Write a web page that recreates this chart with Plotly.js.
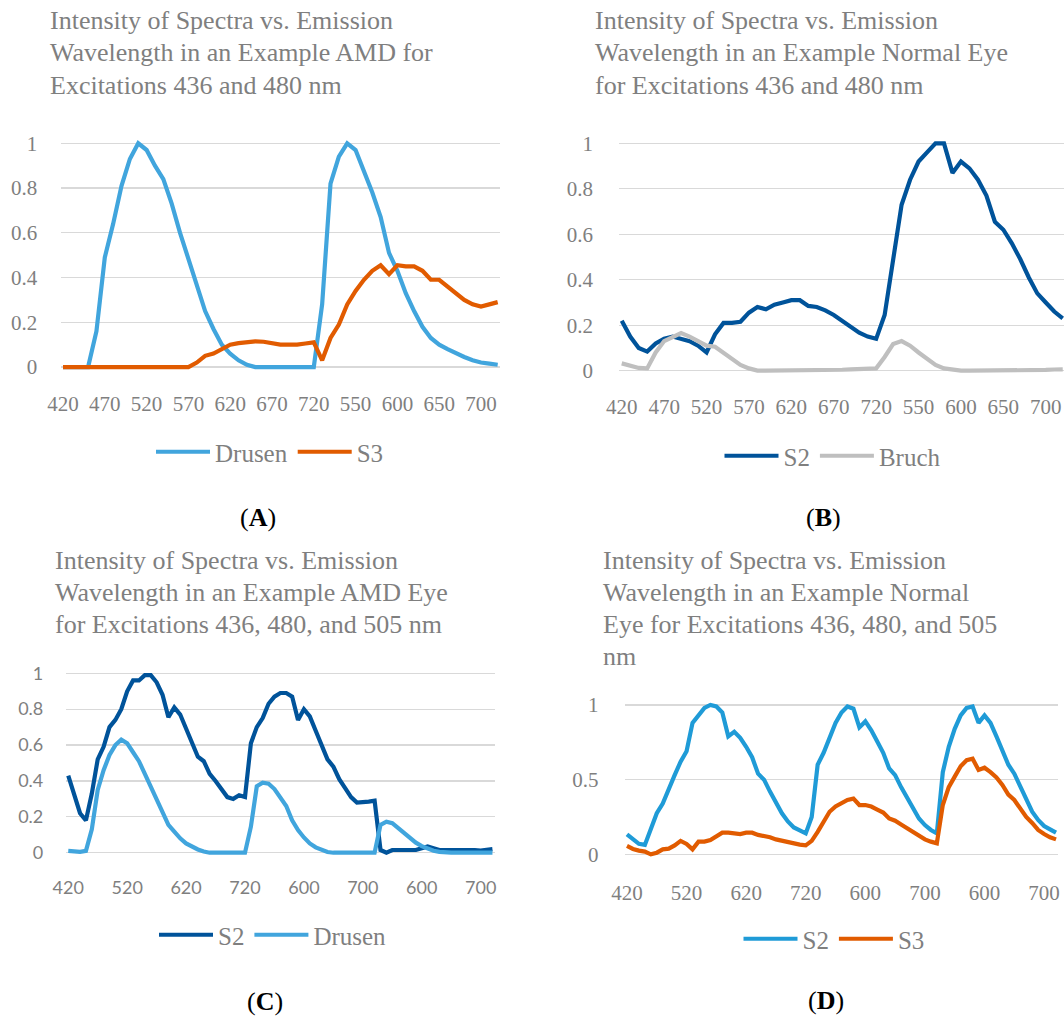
<!DOCTYPE html>
<html>
<head>
<meta charset="utf-8">
<script src="https://cdn.plot.ly/plotly-3.0.1.min.js"></script>
<style>html,body{margin:0;padding:0;background:#fff;}#chart{width:1064px;height:1017px;}</style>
</head>
<body>
<div id="chart"></div>
<script>
// ---------- DATA ----------
// emission wavelengths (nm) for each excitation segment
const emission436 = [420,430,440,450,460,470,480,490,500,510,520,530,540,550,560,570,580,590,600,610,620,630,640,650,660,670,680,690,700,710,720];
const emission480 = [510,520,530,540,550,560,570,580,590,600,610,620,630,640,650,660,670,680,690,700,710,720];
const emission505 = [530,540,550,560,570,580,590,600,610,620,630,640,650,660,670,680,690,700,710,720];

const categoriesAB = emission436.concat(emission480);
const categoriesCD = emission436.concat(emission480, emission505);

// (A) AMD, excitations 436 and 480 nm
const drusenA = [0,0,0,0,0.16,0.49,0.64,0.81,0.93,1.0,0.97,0.90,0.84,0.73,0.60,0.48,0.37,0.25,0.17,0.10,0.06,0.03,0.01,0,0,0,0,0,0,0,0,
  0.28,0.82,0.94,1.0,0.97,0.88,0.78,0.67,0.51,0.43,0.33,0.25,0.18,0.13,0.10,0.08,0.06,0.045,0.03,0.02,0.015,0.01];
const s3A = [0,0,0,0,0,0,0,0,0,0,0,0,0,0,0,0,0.02,0.05,0.06,0.08,0.10,0.107,0.11,0.115,0.113,0.108,0.10,0.10,0.10,0.105,0.11,
  0.03,0.13,0.19,0.28,0.34,0.39,0.43,0.455,0.415,0.455,0.45,0.45,0.43,0.39,0.39,0.36,0.33,0.30,0.28,0.27,0.28,0.29];

// (B) Normal eye, excitations 436 and 480 nm
const s2B = [0.22,0.15,0.10,0.084,0.12,0.14,0.15,0.14,0.13,0.11,0.08,0.16,0.21,0.21,0.215,0.255,0.28,0.27,0.29,0.30,0.31,0.31,0.285,0.28,0.265,0.245,0.22,0.19,0.167,0.15,0.14,
  0.245,0.50,0.73,0.84,0.92,0.96,1.0,1.0,0.87,0.92,0.89,0.84,0.77,0.655,0.62,0.56,0.49,0.41,0.34,0.30,0.26,0.23];
const bruchB = [0.032,0.02,0.012,0.01,0.08,0.13,0.15,0.165,0.15,0.13,0.11,0.105,0.08,0.05,0.025,0.01,0,0,0,0,0,0,0,0,0,0.002,0.004,0.006,0.008,0.009,0.01,
  0.06,0.117,0.13,0.11,0.08,0.05,0.025,0.01,0.003,0,0,0,0,0,0,0,0,0.001,0.002,0.003,0.005,0.006];

// (C) AMD eye, excitations 436, 480 and 505 nm
const s2C = [0.43,0.33,0.22,0.18,0.33,0.52,0.59,0.70,0.74,0.80,0.90,0.96,0.96,0.99,0.99,0.95,0.88,0.755,0.81,0.77,0.69,0.61,0.535,0.51,0.44,0.40,0.35,0.31,0.30,0.32,0.31,
  0.61,0.70,0.75,0.83,0.87,0.89,0.89,0.87,0.74,0.80,0.76,0.68,0.60,0.52,0.48,0.41,0.36,0.31,0.28,0.28,0.285,0.29,
  0.015,0.0,0.015,0.015,0.015,0.012,0.015,0.025,0.035,0.025,0.015,0.015,0.015,0.018,0.02,0.018,0.015,0.012,0.015,0.02];
const drusenC = [0.01,0.008,0.005,0.01,0.13,0.35,0.46,0.545,0.60,0.63,0.61,0.56,0.51,0.44,0.37,0.29,0.22,0.155,0.117,0.08,0.052,0.033,0.018,0.007,0,0,0,0,0,0,0,
  0.145,0.37,0.39,0.385,0.355,0.31,0.26,0.18,0.126,0.085,0.052,0.03,0.015,0.004,0,0,0,0,0,0,0,0,
  0.155,0.173,0.165,0.136,0.108,0.08,0.056,0.037,0.024,0.011,0.005,0,0,0,0,0,0,0,0,0];

// (D) Normal eye, excitations 436, 480 and 505 nm
const s2D = [0.134,0.10,0.07,0.063,0.16,0.275,0.34,0.44,0.53,0.62,0.69,0.88,0.93,0.98,1.0,0.99,0.95,0.79,0.82,0.78,0.72,0.65,0.54,0.50,0.42,0.34,0.275,0.22,0.18,0.16,0.14,
  0.25,0.60,0.68,0.79,0.88,0.95,0.99,0.975,0.85,0.89,0.83,0.755,0.68,0.575,0.53,0.45,0.375,0.31,0.24,0.196,0.163,0.14,
  0.55,0.72,0.84,0.93,0.98,0.99,0.88,0.93,0.88,0.79,0.70,0.60,0.54,0.45,0.36,0.285,0.23,0.19,0.167,0.145];
const s3D = [0.056,0.036,0.025,0.018,0.0,0.011,0.033,0.038,0.06,0.09,0.07,0.033,0.085,0.085,0.096,0.118,0.145,0.145,0.14,0.136,0.145,0.145,0.13,0.123,0.114,0.10,0.09,0.078,0.071,0.065,0.06,
  0.09,0.15,0.22,0.285,0.32,0.345,0.364,0.373,0.33,0.33,0.32,0.30,0.28,0.24,0.225,0.20,0.174,0.145,0.118,0.10,0.085,0.074,
  0.33,0.45,0.52,0.59,0.63,0.64,0.565,0.58,0.55,0.515,0.465,0.40,0.364,0.31,0.25,0.21,0.163,0.136,0.114,0.10];

const titleA = ["Intensity of Spectra vs. Emission","Wavelength in an Example AMD for","Excitations 436 and 480 nm"];
const titleB = ["Intensity of Spectra vs. Emission","Wavelength in an Example Normal Eye","for Excitations 436 and 480 nm"];
const titleC = ["Intensity of Spectra vs. Emission","Wavelength in an Example AMD Eye","for Excitations 436, 480, and 505 nm"];
const titleD = ["Intensity of Spectra vs. Emission","Wavelength in an Example Normal","Eye for Excitations 436, 480, and 505","nm"];
const panelLetters = ["A","B","C","D"];

// ---------- STYLE / LAYOUT ----------
const W = 1064, H = 1017;
const px = x => x / W;
const py = y => 1 - y / H;
const GRAY = '#7f7f7f';
const SERIF = 'Liberation Serif, Times New Roman, serif';
const SANS = 'Lato, Open Sans, sans-serif';

const idx = arr => arr.map((_, i) => i);
function tickSet(cats, step) {
  const vals = [], text = [];
  cats.forEach((c, i) => { if (i % step === 0) { vals.push(i); text.push(String(c)); } });
  return {vals, text};
}
const tAB = tickSet(categoriesAB, 5);
const tCD = tickSet(categoriesCD, 10);

function trace(cats, ys, name, color, xa, ya, lg) {
  return {x: idx(cats), y: ys, name: name, type: 'scatter', mode: 'lines',
    line: {color: color, width: 4.2}, xaxis: xa, yaxis: ya, legend: lg, hoverinfo: 'skip'};
}

const data = [
  trace(categoriesAB, drusenA, 'Drusen', '#41A5DD', 'x', 'y', 'legend'),
  trace(categoriesAB, s3A, 'S3', '#E15B00', 'x', 'y', 'legend'),
  trace(categoriesAB, s2B, 'S2', '#00539A', 'x2', 'y2', 'legend2'),
  trace(categoriesAB, bruchB, 'Bruch', '#BFBFBF', 'x2', 'y2', 'legend2'),
  trace(categoriesCD, s2C, 'S2', '#00539A', 'x3', 'y3', 'legend3'),
  trace(categoriesCD, drusenC, 'Drusen', '#41A5DD', 'x3', 'y3', 'legend3'),
  trace(categoriesCD, s2D, 'S2', '#1F9BD7', 'x4', 'y4', 'legend4'),
  trace(categoriesCD, s3D, 'S3', '#E15B00', 'x4', 'y4', 'legend4')
];

function xax(domPx, range, ticks, font, tlen) {
  return {domain: [px(domPx[0]), px(domPx[1])], range: range, tickmode: 'array',
    tickvals: ticks.vals, ticktext: ticks.text, showgrid: false, zeroline: false, showline: false,
    ticks: 'outside', ticklen: tlen, tickcolor: 'rgba(0,0,0,0)', tickfont: font, fixedrange: true};
}
function yax(domPx, range, dtick, font, tlen, anchor) {
  return {domain: [py(domPx[1]), py(domPx[0])], range: range, tick0: 0, dtick: dtick,
    showgrid: true, gridcolor: '#d9d9d9', gridwidth: 1.2, zeroline: false, showline: false,
    ticks: 'outside', ticklen: tlen, tickcolor: 'rgba(0,0,0,0)', tickfont: font, anchor: anchor, fixedrange: true};
}
const fSerif = {family: SERIF, size: 21, color: GRAY};
const fSans = {family: SANS, size: 18, color: GRAY};

const annotations = [];
function addTitle(lines, x, y0) {
  lines.forEach((t, i) => annotations.push({text: t, xref: 'paper', yref: 'paper', x: px(x), y: py(y0 + i * 32),
    xanchor: 'left', yanchor: 'middle', showarrow: false, font: {family: SERIF, size: 26, color: GRAY}}));
}
addTitle(titleA, 48, 21);
addTitle(titleB, 593, 21);
addTitle(titleC, 53, 560);
addTitle(titleD, 601, 560);
[[258, 517], [823, 517], [265, 1001], [826, 1000]].forEach((p, i) => annotations.push({
  text: '(<b>' + panelLetters[i] + '</b>)', xref: 'paper', yref: 'paper', x: px(p[0]), y: py(p[1]),
  xanchor: 'center', yanchor: 'middle', showarrow: false, font: {family: SERIF, size: 26, color: '#000'}}));

function leg(x, y) {
  return {x: px(x), y: py(y), xanchor: 'center', yanchor: 'middle', orientation: 'h',
    bgcolor: 'rgba(0,0,0,0)', font: {family: SERIF, size: 25, color: GRAY}, itemwidth: 54, traceorder: 'normal'};
}

const layout = {
  width: W, height: H, margin: {l: 0, r: 0, t: 0, b: 0},
  paper_bgcolor: '#fff', plot_bgcolor: '#fff', showlegend: true,
  xaxis: xax([60.5, 500.2], [-0.3, 52.3], tAB, fSerif, 13),
  yaxis: yax([138.8, 371.5], [-0.02, 1.02], 0.2, fSerif, 18, 'x'),
  xaxis2: xax([619.2, 1064], [-0.3, 52.15], tAB, fSerif, 13),
  yaxis2: yax([138.8, 375.2], [-0.02, 1.02], 0.2, fSerif, 21, 'x2'),
  xaxis3: xax([65.9, 494.8], [-0.4, 72.4], tCD, fSans, 14),
  yaxis3: yax([668.8, 857.2], [-0.025, 1.025], 0.2, fSans, 18, 'x3'),
  xaxis4: xax([624.6, 1058.4], [-0.4, 72.4], tCD, fSerif, 15),
  yaxis4: yax([700.5, 858.8], [-0.03, 1.03], 0.5, fSerif, 21, 'x4'),
  legend: leg(270, 452),
  legend2: leg(833, 456),
  legend3: leg(273, 935),
  legend4: leg(834, 939),
  annotations: annotations
};
layout.xaxis.anchor = 'y'; layout.xaxis2.anchor = 'y2'; layout.xaxis3.anchor = 'y3'; layout.xaxis4.anchor = 'y4';

Plotly.newPlot('chart', data, layout, {displayModeBar: false, staticPlot: true});
</script>
</body>
</html>
